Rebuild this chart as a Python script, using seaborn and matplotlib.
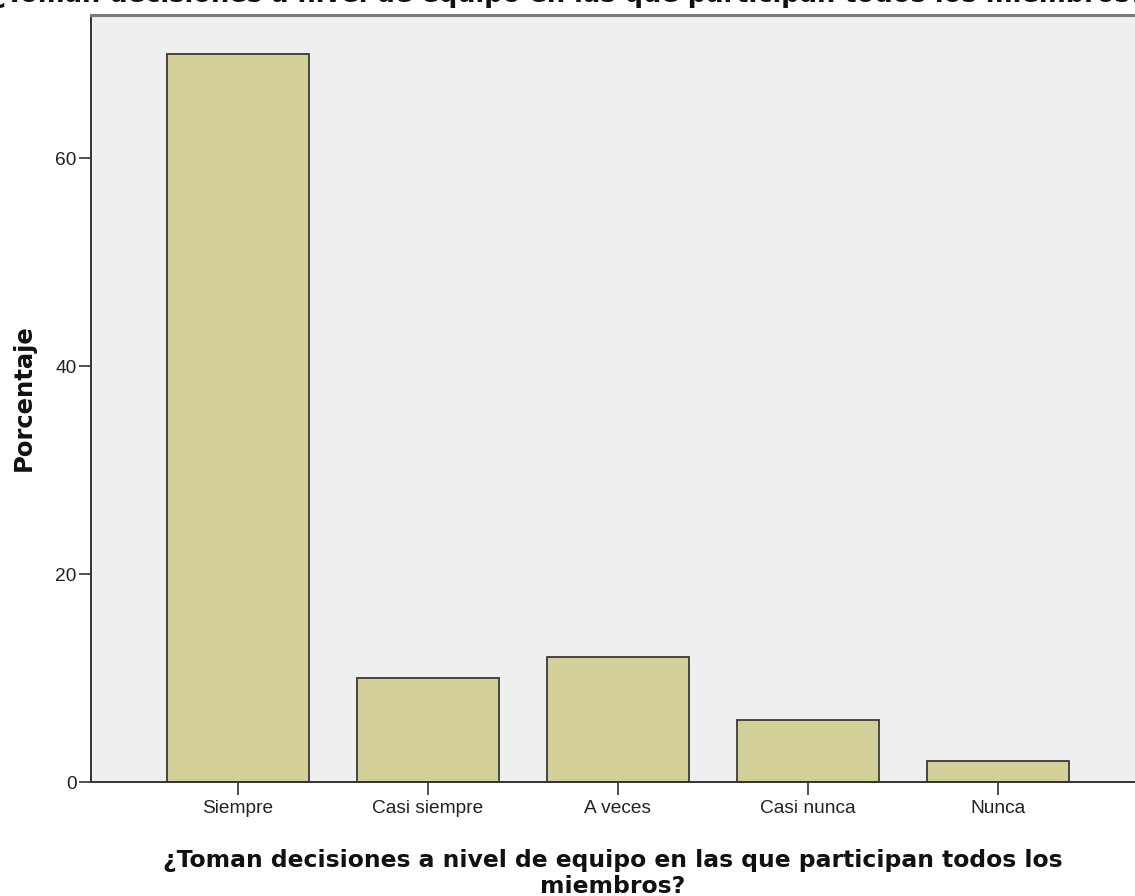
import matplotlib
matplotlib.use("Agg")
import matplotlib.pyplot as plt
import seaborn as sns
import pandas as pd

# data
categorias = ["Siempre", "Casi siempre", "A veces", "Casi nunca", "Nunca"]
porcentajes = [70, 10, 12, 6, 2]
y_ticks = [0, 20, 40, 60]
titulo = "¿Toman decisiones a nivel de equipo en las que participan todos los miembros?"
xlabel_1 = "¿Toman decisiones a nivel de equipo en las que participan todos los"
xlabel_2 = "miembros?"
ylabel = "Porcentaje"

df = pd.DataFrame({"categoria": categorias, "porcentaje": porcentajes})

sns.set_style("white")
plt.rcParams["font.family"] = ["Liberation Sans", "DejaVu Sans"]

W, H = 1135, 896
fig = plt.figure(figsize=(W / 100, H / 100), dpi=100)
# plot frame runs a bit past the right edge, as in the reference
ax = fig.add_axes([91 / W, (H - 782) / H, (1145 - 91) / W, (782 - 15) / H])
ax.set_facecolor("#efefef")

sns.barplot(data=df, x="categoria", y="porcentaje", color="#d3cf98", saturation=1,
            width=0.747, edgecolor="#3a3a3a", linewidth=1.3, ax=ax)

ax.set_xlim(-0.774, 4.774)
ax.set_ylim(0, 73.75)
ax.set_yticks(y_ticks)
ax.set_xlabel("")
ax.set_ylabel("")

for side in ["left", "bottom"]:
    ax.spines[side].set_color("#333333")
    ax.spines[side].set_linewidth(1.4)
ax.spines["top"].set_color("#7a7a7a")
ax.spines["top"].set_linewidth(2.2)
ax.spines["right"].set_visible(False)

ax.tick_params(axis="both", direction="out", length=9, width=1.2, color="#333333",
               labelsize=13.8, labelcolor="#222222")
ax.tick_params(axis="y", pad=1.5, left=True)
ax.tick_params(axis="x", pad=4, bottom=True)

bold = dict(fontweight="bold", family="DejaVu Sans", color="#111111")

# title is cut by the top edge in the reference, only the bottom of the letters shows
fig.text(0.5, 1 - 2 / H, titulo, ha="center", va="baseline", fontsize=18.5, **bold)

fig.text(613 / W, 1 - 867 / H, xlabel_1, ha="center", va="baseline", fontsize=16.9, **bold)
fig.text(613 / W, 1 - 893 / H, xlabel_2, ha="center", va="baseline", fontsize=16.9, **bold)

fig.text(24 / W, 1 - 398 / H, ylabel, rotation=90, ha="center", va="center",
         fontsize=17.5, **bold)

fig.savefig("out.png", dpi=100)
